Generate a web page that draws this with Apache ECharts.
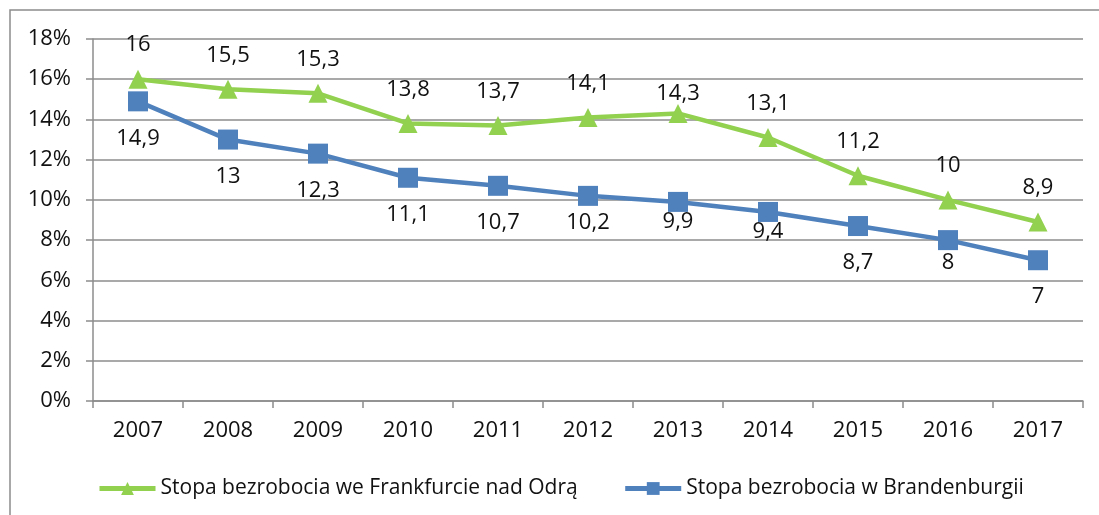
<!DOCTYPE html>
<html>
<head>
<meta charset="utf-8">
<script src="https://cdn.jsdelivr.net/npm/echarts@6/dist/echarts.min.js"></script>
<style>
  html, body { margin: 0; padding: 0; background: #fff; }
  #chart { width: 1099px; height: 515px; }
</style>
</head>
<body>
<div id="chart"></div>
<script>
// dane z wykresu
const years = ['2007', '2008', '2009', '2010', '2011', '2012', '2013', '2014', '2015', '2016', '2017'];
const frankfurt = [16, 15.5, 15.3, 13.8, 13.7, 14.1, 14.3, 13.1, 11.2, 10, 8.9];
const brandenburg = [14.9, 13, 12.3, 11.1, 10.7, 10.2, 9.9, 9.4, 8.7, 8, 7];
const seriesNames = ['Stopa bezrobocia we Frankfurcie nad Odrą', 'Stopa bezrobocia w Brandenburgii'];

const FONT = '"Open Sans", sans-serif';
const fmt = (v) => String(v).replace('.', ',');

// przesunięcia etykiet (jak w oryginale z Excela)
const greenShift = { 6: -20 };
const blueShift = { 5: 27, 6: 20, 7: 20, 9: 23 };

function points(values, base, shifts) {
  return values.map((v, i) => ({
    value: v,
    label: { offset: [0, shifts[i] !== undefined ? shifts[i] : base] }
  }));
}

const chart = echarts.init(document.getElementById('chart'));
const options = {
  animation: false,
  textStyle: { fontFamily: FONT },
  graphic: [{
    type: 'rect',
    shape: { x: 10, y: 10, width: 1200, height: 600 },
    style: { fill: 'none', stroke: '#8c8c8c', lineWidth: 1.5 }
  }],
  grid: { left: 93, top: 39, right: 16, bottom: 114 },
  legend: {
    left: 92,
    top: 473,
    itemGap: 45,
    itemWidth: 56,
    itemHeight: 16,
    lineStyle: { width: 5 },
    textStyle: { fontSize: 21, color: '#111', fontFamily: FONT },
    data: seriesNames
  },
  xAxis: {
    type: 'category',
    data: years,
    boundaryGap: true,
    axisLine: { lineStyle: { color: '#8c8c8c', width: 1.5 } },
    axisTick: { show: true, length: 7, lineStyle: { color: '#8c8c8c', width: 1.5 } },
    axisLabel: { fontSize: 22, color: '#111', margin: 19 },
    splitLine: { show: false }
  },
  yAxis: {
    type: 'value',
    min: 0,
    max: 18,
    interval: 2,
    axisLine: { show: true, lineStyle: { color: '#8c8c8c', width: 1.5 } },
    axisTick: { show: true, length: 7, lineStyle: { color: '#8c8c8c', width: 1.5 } },
    axisLabel: { fontSize: 22, color: '#111', margin: 22, formatter: (v) => v + '%' },
    splitLine: { lineStyle: { color: '#8c8c8c', width: 1.5 } }
  },
  series: [
    {
      name: seriesNames[0],
      type: 'line',
      data: points(frankfurt, -34, greenShift),
      symbol: 'triangle',
      symbolSize: 19,
      color: '#92D050',
      lineStyle: { width: 4.5, color: '#92D050' },
      itemStyle: { color: '#92D050' },
      label: {
        show: true,
        position: 'inside',
        fontSize: 22,
        color: '#111',
        formatter: (p) => fmt(p.value)
      },
      z: 3
    },
    {
      name: seriesNames[1],
      type: 'line',
      data: points(brandenburg, 37, blueShift),
      symbol: 'rect',
      symbolSize: 20,
      color: '#4F81BD',
      lineStyle: { width: 4.5, color: '#4F81BD' },
      itemStyle: { color: '#4F81BD' },
      label: {
        show: true,
        position: 'inside',
        fontSize: 22,
        color: '#111',
        formatter: (p) => fmt(p.value)
      },
      z: 2
    }
  ]
};
chart.setOption(options);
window.addEventListener('resize', () => chart.resize());
</script>
</body>
</html>
